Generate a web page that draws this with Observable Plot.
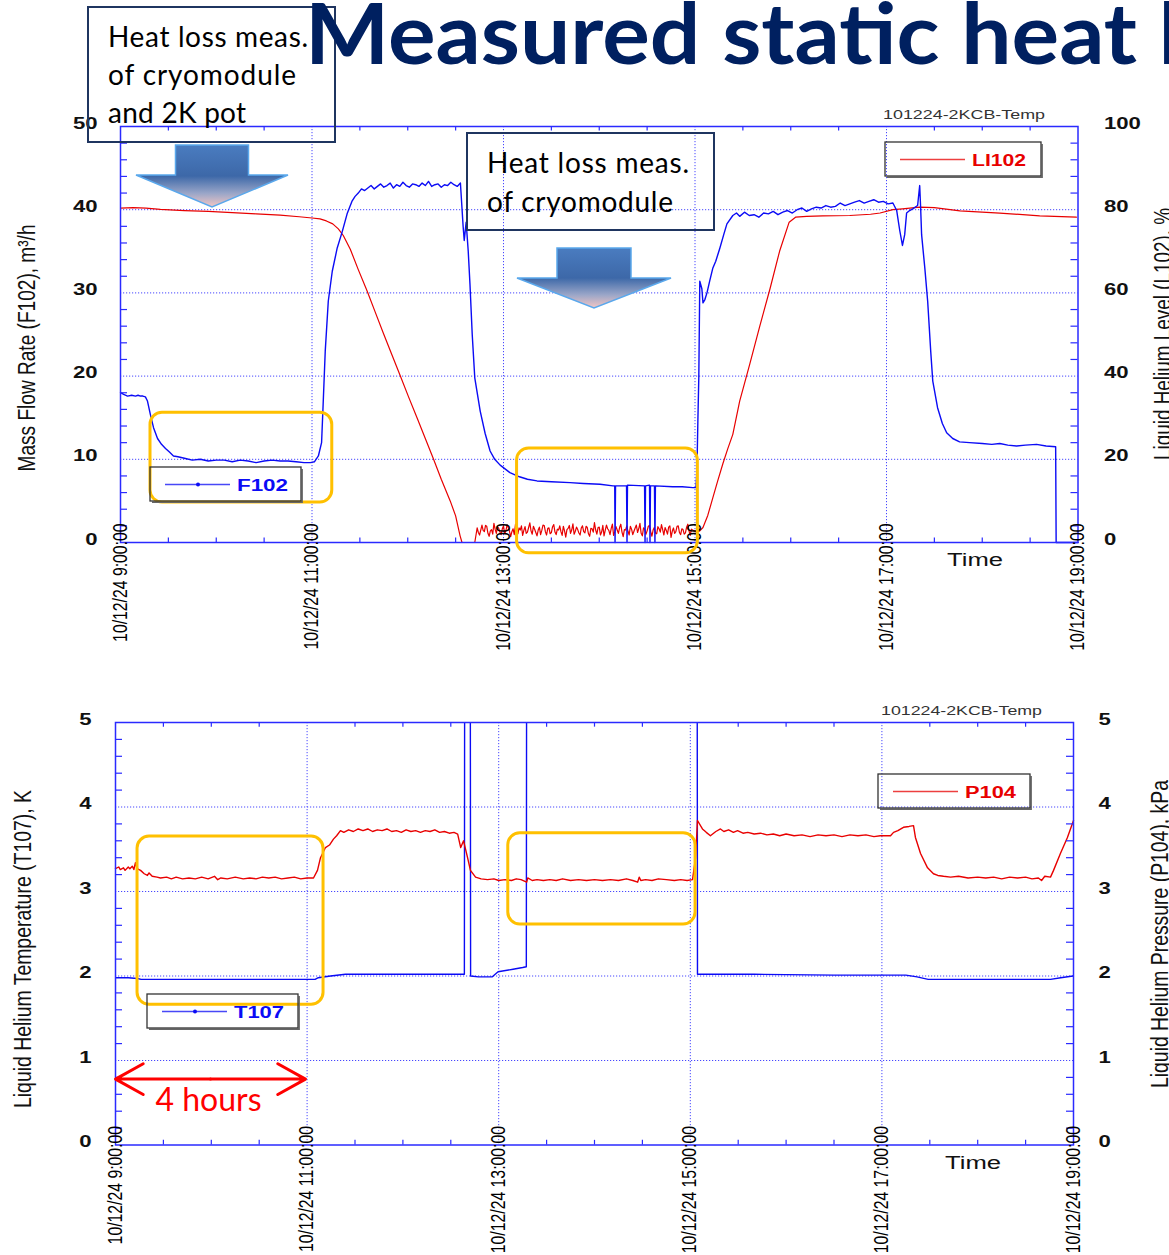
<!DOCTYPE html>
<html><head><meta charset="utf-8">
<script src="https://cdn.jsdelivr.net/npm/d3@7"></script>
<script src="https://cdn.jsdelivr.net/npm/@observablehq/plot@0.6"></script>
<style>
html,body{margin:0;padding:0;background:#fff;overflow:hidden;}
#page{position:relative;width:1169px;height:1255px;overflow:hidden;font-family:'Liberation Sans',Arial,sans-serif;}
#top,#bottom{position:absolute;left:0;}
#top{top:0;}
#bottom{top:660px;}
#overlay{position:absolute;left:0;top:0;pointer-events:none;}
</style></head>
<body><div id="page"><div id="top"></div><div id="bottom"></div><svg id="overlay" width="1169" height="1255"></svg></div>
<script>
// ---------- DATA (time in minutes after 10/12/24 9:00:00) ----------
const timeTicks = [0, 120, 240, 360, 480, 600];
const timeTickLabels = ["10/12/24 9:00:00","10/12/24 11:00:00","10/12/24 13:00:00","10/12/24 15:00:00","10/12/24 17:00:00","10/12/24 19:00:00"];
const minorTimeTicks = [30,60,90,150,180,210,270,300,330,390,420,450,510,540,570];
const gridTimes = [120, 240, 360, 480];

const flowTicks = [0, 10, 20, 30, 40, 50];
const levelTickLabels = [0, 20, 40, 60, 80, 100];
const flowGrid = [10, 20, 30, 40];
const flowMinor = [2,4,6,8,12,14,16,18,22,24,26,28,32,34,36,38,42,44,46,48];

const tempTicks = [0, 1, 2, 3, 4, 5];
const pressureTickLabels = [0, 1, 2, 3, 4, 5];
const tempGrid = [1, 2, 3, 4];
const tempMinor = [0.2,0.4,0.6,0.8,1.2,1.4,1.6,1.8,2.2,2.4,2.6,2.8,3.2,3.4,3.6,3.8,4.2,4.4,4.6,4.8];

// F102 mass flow rate, m3/h
const F102 = [[0,18.0],[2,17.8],[4.4,17.6],[7,17.7],[9.4,17.6],[11,17.7],[12.5,17.6],[14,17.6],[15.6,17.5],[16.9,17.0],[18.8,15.3],[20.7,13.8],[23.2,12.5],[25.7,11.8],[28.2,11.3],[30.5,10.9],[33.2,10.4],[36,10.3],[40.7,10.1],[45,9.9],[50,10.0],[55,9.8],[60,9.9],[65,9.9],[70,9.7],[75,9.9],[80,9.8],[85,9.6],[90,9.8],[95,9.9],[100,9.8],[105,9.8],[110,9.7],[115,9.6],[119,9.6],[121.5,9.7],[124,10.4],[126,12.0],[127,16.7],[128.3,23],[130.2,29],[132.7,32.6],[135.8,35.4],[139,37.4],[142,39.5],[145,41.0],[147,41.6],
[149,42.0],[151,42.5],[153,42.3],[155,42.6],[157,42.9],[159,42.5],[161,42.8],[163,43.1],[165,42.7],[167,42.9],[169,43.2],[171,42.6],[173,43.0],[175,42.8],[177,43.3],[179,42.9],[181,42.7],[183,43.1],[185,43.0],[187,42.8],[189,43.2],[191,42.9],[193,43.4],[195,42.8],[197,43.0],[199,43.1],[201,42.7],[203,43.0],[205,42.9],[207,43.3],[209,43.0],[211,42.8],[213,43.2],
[214.7,38],[215.4,36.3],[216.6,38.5],[217.9,35],[219,31],[220.4,25],[222,19.8],[225.4,15.8],[228.5,13.1],[231.6,11],[234.5,10.0],[237.9,9.3],[244,8.4],[250,7.9],[255,7.6],[261,7.4],[270,7.3],[281.7,7.2],[290,7.1],[300.5,7.0],[308.6,6.8],[309.7,6.8],[309.9,0],[310.2,6.8],[317.1,6.8],[317.4,0],[317.7,6.9],[328.4,6.8],[328.7,0],[329,6.8],[331.5,6.9],[331.8,0],[332.1,6.8],[334.6,6.8],[334.9,0],[335.2,6.8],[346,6.7],[352,6.7],[358.7,6.6],[360.6,6.6],
[361.2,8.6],[361.8,14.6],[362.4,20],[363,31.4],[364.3,30.5],[365,28.8],[366.2,29.2],[367.5,30],[369.3,31.5],[371.2,33],[373,33.8],[375.6,35.4],[378,37],[380,38.3],[383.7,39.3],
[386,39.6],[388,39.2],[391,39.7],[394,39.3],[397,39.4],[400,39.1],[403,39.6],[406,39.5],[409,39.8],[412,39.4],[415,39.7],[418,39.9],[421,39.6],[424,40.0],[427,40.2],[430,39.8],[433,40.1],[436,40.3],[439,40.2],[442,40.5],[445,40.3],[448,40.4],[451,40.8],[454,40.5],[457,40.7],[460,40.9],[463,41.1],[466,40.8],[469,41.0],[472,41.2],[475,40.9],[478,41.0],[481,40.7],[484,40.8],
[486.4,39.9],[488.3,37.5],[490,35.7],[491.4,37],[492.6,39.6],[494.5,39.9],[496.4,40.1],[499.5,40.5],[500.8,42.9],[501.4,40.2],[502,37],[504,33],[505.8,29],[507.7,23],[509,19.4],[512,16.2],[515,14.3],[517.7,13.2],[521.5,12.5],[525.8,12.1],[532,12.0],[540,11.9],[546,11.8],[551,11.9],[556,11.7],[561.5,11.6],[567,11.7],[574,11.8],[580,11.6],[586,11.5],[586.3,0],[600,0]];

// LI102 liquid helium level, %
const LI102 = [[0,80.4],[8,80.5],[16,80.4],[25,80.1],[40,79.8],[55,79.6],[70,79.3],[85,79.0],[100,78.7],[112,78.3],[120,78.0],[125,77.8],[129,77.3],[133,76.6],[136.5,75.4],[139.6,73.8],[144,70.5],[149,65.6],[154.6,60.4],[159.5,55.5],[164.6,50.4],[170,45.2],[175.3,40.1],[180.5,35],[186,29.8],[191,25],[196,20.2],[201,15.2],[206.6,10],[210,6.4],[212.8,1.6],[214,0],[222,0],
[223.5,3.5],[224.25,2.4],[225,1.8],[225.75,3.0],[226.5,4.2],[227.25,2.9],[228,2.6],[228.75,4.1],[229.5,3.9],[230.25,2.2],[231,1.5],[231.75,2.8],[232.5,3.1],[233.25,2.0],[234,4.6],[234.75,3.2],[235.5,2.2],[236.25,3.8],[237,3.4],[237.75,2.5],[238.5,1.9],[239.25,3.3],[240,4.0],[240.75,2.1],[241.5,2.8],[242.25,4.3],[243,3.6],[243.75,2.7],[244.5,1.4],[245.25,2.6],[246,3.3],[246.75,1.9],[247.5,4.4],[248.25,3.1],[249,2.1],[249.75,3.5],[250.5,3.0],[251.25,4.0],[252,1.7],[252.75,2.9],[253.5,3.8],[254.25,2.2],[255,2.5],[255.75,3.6],[256.5,4.7],[257.25,2.8],[258,2.0],[258.75,3.9],[259.5,3.2],[260.25,2.4],[261,1.6],[261.75,3.0],[262.5,3.7],[263.25,1.9],[264,2.9],[264.75,4.2],[265.5,4.1],[266.25,2.6],[267,1.8],[267.75,3.4],[268.5,3.5],[269.25,2.1],[270,2.4],[270.75,3.8],[271.5,4.3],[272.25,2.5],[273,1.9],[273.75,3.2],[274.5,3.0],[275.25,4.0],[276,2.6],[276.75,1.7],[277.5,3.9],[278.25,2.8],[279,1.3],[279.75,3.1],[280.5,3.4],[281.25,4.1],[282,2.2],[282.75,3.0],[283.5,4.5],[284.25,2.0],[285,2.7],[285.75,3.7],[286.5,3.1],[287.25,2.3],[288,1.8],[288.75,3.5],[289.5,4.0],[290.25,2.6],[291,2.3],[291.75,3.9],[292.5,3.6],[293.25,2.1],[294,1.5],[294.75,3.4],[295.5,3.3],[296.25,2.5],[297,4.8],[297.75,3.0],[298.5,2.0],[299.25,3.6],[300,3.7],[300.75,1.8],[301.5,2.5],[302.25,4.1],[303,1.6],[303.75,2.9],[304.5,4.2],[305.25,3.3],[306,2.9],[306.75,1.9],[307.5,3.4],[308.25,4.4],[309,1.7],[309.75,2.6],[310.5,3.8],[311.25,3.0],[312,2.2],[312.75,3.6],[313.5,4.4],[314.25,2.5],[315,1.4],[315.75,3.1],[316.5,3.0],[317.25,4.0],[318,2.7],[318.75,1.8],[319.5,3.9],[320.25,3.2],[321,1.9],[321.75,2.7],[322.5,3.5],[323.25,4.2],[324,2.4],[324.75,3.3],[325.5,4.6],[326.25,2.2],[327,1.6],[327.75,3.5],[328.5,3.2],[329.25,2.0],[330,2.8],[330.75,3.9],[331.5,4.1],[332.25,2.6],[333,1.5],[333.75,3.0],[334.5,3.6],[335.25,2.3],[336,2.1],[336.75,3.8],[337.5,3.3],[338.25,2.5],[339,4.3],[339.75,3.1],[340.5,1.8],[341.25,3.6],[342,2.9],[342.75,2.0],[343.5,3.7],[344.25,4.0],[345,1.2],[345.75,2.7],[346.5,3.5],[347.25,2.2],[348,2.6],[348.75,3.9],[349.5,4.0],[350.25,2.4],[351,1.9],[351.75,3.3],[352.5,3.1],[353.25,2.0],[354,2.3],[354.75,3.7],[355.5,4.4],[356.25,2.8],[357,1.7],[357.75,3.2],[358.5,3.0],
[361,2.5],[363,2.8],[365,3.6],[368,6.5],[371.2,10.8],[374,14.5],[377.5,19],[380.5,22.5],[383.7,26],[388,34],[394.4,43],[400.6,52],[407,61],[413,70],[419,77],[423,78.2],[430,78.4],[440,78.5],[457,78.6],[470,78.9],[476,79.2],[484,80.0],[490,80.2],[500.8,80.6],[510,80.5],[526,79.7],[551,79.2],[576,78.5],[599,78.2]];

// T107 liquid helium temperature, K (6 = off scale)
const T107 = [[0,1.98],[8,1.98],[13.8,1.97],[16,1.96],[40,1.96],[70,1.96],[100,1.96],[125,1.96],[127,1.98],[134.7,2.00],[144,2.02],[180,2.02],[218.5,2.02],[218.7,6],[222.2,6],[222.4,2.0],[227.3,1.99],[236,1.99],[239.6,2.05],[249,2.08],[255,2.10],[257.3,2.11],[257.5,6],[364.3,6],[364.5,2.02],[400,2.02],[450,2.01],[495,2.01],[502,1.99],[509,1.96],[550,1.96],[585.6,1.96],[592,1.98],[600,2.00]];

// P104 liquid helium pressure, kPa
const P104 = [[0,3.27],[2,3.29],[3,3.26],[5,3.28],[6,3.25],[8,3.29],[9,3.27],[10.5,3.30],[11.5,3.26],[12.5,3.34],[13.5,3.27],[15.7,3.25],[18,3.21],[20,3.19],[21,3.22],[23,3.18],[26,3.17],[28.2,3.16],[32,3.17],[35,3.15],[38,3.17],[42,3.15],[46,3.16],[50,3.15],[54,3.17],[58,3.15],[62,3.18],[64,3.14],[66,3.16],[70,3.15],[75,3.17],[80,3.15],[84,3.16],[88,3.15],[92,3.17],[96,3.16],[100,3.17],[104,3.15],[108,3.16],[112,3.17],[116,3.15],[120,3.16],[124,3.16],[126.5,3.25],[128.4,3.40],[131.5,3.52],[134,3.55],[136.5,3.62],[138.5,3.66],[140.9,3.72],[143,3.70],[146,3.73],[149,3.71],[152,3.74],[155,3.72],[158,3.74],[161,3.71],[164,3.73],[167,3.72],[170,3.74],[173,3.71],[176,3.72],[179,3.70],[182,3.73],[185,3.71],[188,3.72],[191,3.70],[194,3.72],[197,3.71],[200,3.73],[203,3.70],[206,3.71],[209,3.69],[212,3.70],[214.3,3.68],[216.2,3.52],[218,3.60],[220.5,3.40],[222.3,3.25],[225.5,3.17],[229,3.15],[233,3.14],[237,3.15],[240,3.13],[244,3.14],[248,3.13],[251,3.15],[254,3.14],[257.5,3.11],[258.2,3.16],[261,3.13],[264,3.14],[268,3.13],[272,3.14],[276,3.13],[280,3.15],[285,3.13],[290,3.14],[295,3.13],[300,3.14],[305,3.13],[310,3.14],[315,3.13],[320,3.15],[324,3.13],[327,3.11],[328,3.17],[329,3.13],[332,3.14],[336,3.13],[340,3.15],[345,3.14],[350,3.13],[354,3.14],[358,3.13],[361.4,3.14],[363.3,3.40],[364.5,3.84],[367.6,3.74],[370,3.70],[372.6,3.66],[376,3.71],[378.9,3.74],[381,3.71],[384,3.73],[387,3.70],[389.6,3.72],[393,3.69],[396,3.70],[400,3.68],[404,3.69],[408,3.67],[412,3.68],[416,3.66],[420,3.68],[425,3.66],[430,3.67],[435,3.65],[440,3.67],[445,3.66],[450,3.67],[455,3.65],[460,3.67],[465,3.66],[470,3.67],[475,3.65],[479,3.66],[485.4,3.66],[487.3,3.70],[490,3.72],[493.5,3.76],[497,3.77],[499.8,3.78],[501,3.64],[504.2,3.45],[508.6,3.28],[512.3,3.21],[515,3.19],[518.6,3.18],[523,3.17],[528,3.18],[534,3.16],[540,3.17],[545,3.16],[550,3.17],[555,3.15],[560,3.17],[565,3.16],[570,3.17],[574,3.15],[578,3.16],[580,3.13],[582,3.18],[585.6,3.17],[587.5,3.25],[591.8,3.45],[596.2,3.64],[600,3.84]];

// highlighted measurement windows (time range, value range)
const focusTop = [{t1: 18.8, t2: 132.7, v1: 4.8, v2: 15.6}, {t1: 248.5, t2: 361.8, v1: -1.3, v2: 11.3}];
const focusBottom = [{t1: 13.8, t2: 130.3, v1: 1.66, v2: 3.65}, {t1: 246, t2: 363.3, v1: 2.61, v2: 3.69}];
// "4 hours" span annotation
const hoursSpan = {start: 0, end: 119, value: 0.78, label: "4 hours", labelValue: 0.4};

// ---------- STYLE ----------
const BLUE = "#0b0bf5", RED = "#e80000", AXIS = "#2a2aff", GRID = "#4848ff", YELLOW = "#FFC000";
const FONT = "'Liberation Sans', Arial, sans-serif";

function frameMarks(minorY, yMax, tickLen, ticks, labelsRight, dxL, dxR) {
  return [
    Plot.frame({stroke: AXIS, strokeWidth: 1.5}),
    Plot.ruleY(minorY, {y: d => d, x1: 0, x2: 4.4, stroke: AXIS, strokeWidth: 1.2}),
    Plot.ruleY(minorY, {y: d => d, x1: 595.6, x2: 600, stroke: AXIS, strokeWidth: 1.2}),
    Plot.ruleX(minorTimeTicks, {x: d => d, y1: 0, y2: tickLen, stroke: AXIS, strokeWidth: 1.2}),
    Plot.ruleX(minorTimeTicks, {x: d => d, y1: yMax - tickLen, y2: yMax, stroke: AXIS, strokeWidth: 1.2}),
    Plot.text(ticks, {frameAnchor: "left", y: d => d, text: d => `${d}`, textAnchor: "end", dx: dxL, dy: -3, fontSize: 16, fontWeight: "bold", fill: "#111"}),
    Plot.text(ticks, {frameAnchor: "right", y: d => d, text: (d, i) => `${labelsRight[i]}`, textAnchor: "start", dx: dxR, dy: -3, fontSize: 16, fontWeight: "bold", fill: "#111"}),
    Plot.text(timeTicks, {x: d => d, frameAnchor: "bottom", text: (d, i) => timeTickLabels[i], rotate: -90, textAnchor: "end", dx: 6, dy: -19, fontSize: 21, fill: "#000"})
  ];
}

const topPlot = Plot.plot({
  width: 1169, height: 660,
  marginLeft: 120, marginRight: 91.5, marginTop: 126, marginBottom: 118,
  x: {domain: [0, 600], axis: null},
  y: {domain: [0, 50], axis: null},
  style: {background: "transparent", overflow: "visible", fontFamily: FONT},
  marks: [
    Plot.ruleY(flowGrid, {y: d => d, stroke: GRID, strokeWidth: 1, strokeDasharray: "1.2,1.8"}),
    Plot.ruleX(gridTimes, {x: d => d, stroke: GRID, strokeWidth: 1, strokeDasharray: "1.2,1.8"}),
    Plot.line(LI102, {x: d => d[0], y: d => d[1] / 2, stroke: RED, strokeWidth: 1.2}),
    Plot.line(F102, {x: d => d[0], y: d => d[1], stroke: BLUE, strokeWidth: 1.4}),
    ...frameMarks(flowMinor, 50, 0.55, flowTicks, levelTickLabels, -23, 26),
    Plot.rect(focusTop, {x1: "t1", x2: "t2", y1: "v1", y2: "v2", fill: "none", stroke: YELLOW, strokeWidth: 3, rx: 12})
  ]
});

const bottomPlot = Plot.plot({
  width: 1169, height: 595,
  marginLeft: 115, marginRight: 96, marginTop: 62, marginBottom: 110.5,
  x: {domain: [0, 600], axis: null},
  y: {domain: [0, 5], axis: null},
  style: {background: "transparent", overflow: "visible", fontFamily: FONT},
  marks: [
    Plot.ruleY(tempGrid, {y: d => d, stroke: GRID, strokeWidth: 1, strokeDasharray: "1.2,1.8"}),
    Plot.ruleX(gridTimes, {x: d => d, stroke: GRID, strokeWidth: 1, strokeDasharray: "1.2,1.8"}),
    Plot.line(T107, {x: d => d[0], y: d => d[1], stroke: BLUE, strokeWidth: 1.4, clip: true}),
    Plot.line(P104, {x: d => d[0], y: d => d[1], stroke: RED, strokeWidth: 1.4}),
    ...frameMarks(tempMinor, 5, 0.055, tempTicks, pressureTickLabels, -24, 25),
    Plot.rect(focusBottom, {x1: "t1", x2: "t2", y1: "v1", y2: "v2", fill: "none", stroke: YELLOW, strokeWidth: 3, rx: 12}),
    Plot.arrow([{a: (hoursSpan.start + hoursSpan.end) / 2, b: hoursSpan.start}, {a: (hoursSpan.start + hoursSpan.end) / 2, b: hoursSpan.end}],
      {x1: "a", x2: "b", y1: () => hoursSpan.value, y2: () => hoursSpan.value, stroke: "#ff0000", strokeWidth: 3, headLength: 20, headAngle: 58}),
    Plot.text([hoursSpan], {x: d => (d.start + d.end) / 2, y: "labelValue", text: "label", fill: "#ff0000", fontSize: 32, fontFamily: "Lato, 'Open Sans', sans-serif", lineAnchor: "bottom", dx: -2})
  ]
});

document.getElementById("top").appendChild(topPlot);
document.getElementById("bottom").appendChild(bottomPlot);

// condensed / stretched glyphs like the source graphic
for (const svg of [topPlot, bottomPlot]) {
  const dates = [...svg.querySelectorAll("text")].filter(t => /^10\/12\/24/.test(t.textContent));
  const ref = dates.find(t => /11:00/.test(t.textContent));
  const k = ref ? 126 / ref.getComputedTextLength() : 0.75;
  for (const t of dates) {
    t.setAttribute("textLength", (t.getComputedTextLength() * k).toFixed(1));
    t.setAttribute("lengthAdjust", "spacingAndGlyphs");
  }
  for (const t of svg.querySelectorAll("text")) {
    if (/^\d+$/.test(t.textContent)) {
      t.setAttribute("textLength", (t.getComputedTextLength() * 1.38).toFixed(1));
      t.setAttribute("lengthAdjust", "spacingAndGlyphs");
    }
  }
}

// ---------- OVERLAY: slide title, notes, legends, axis titles ----------
const LATO = "Lato, 'Open Sans', sans-serif";
function legend(x, y, w, color, label, dot, tl) {
  return `<path d="M${x+w+1.2},${y+2}V${y+35.2}H${x+2}" fill="none" stroke="#666" stroke-width="1.4"/>
  <rect x="${x}" y="${y}" width="${w}" height="34" fill="none" stroke="#333" stroke-width="1.3"/>
  <line x1="${x+15}" x2="${x+80}" y1="${y+17.5}" y2="${y+17.5}" stroke="${color}" stroke-width="1.3" opacity="0.75"/>
  ${dot ? `<circle cx="${x+48}" cy="${y+17.5}" r="2" fill="${color}"/>` : ""}
  <text x="${x+87}" y="${y+24}" font-family="${FONT}" font-weight="bold" font-size="16" fill="${color}" textLength="${tl}" lengthAdjust="spacingAndGlyphs">${label}</text>`;
}
function vtitle(x, y, len, s) {
  return `<text transform="translate(${x},${y}) rotate(-90) scale(1,1.3)" text-anchor="middle" font-family="${FONT}" font-size="18.5" fill="#111" textLength="${len}" lengthAdjust="spacingAndGlyphs">${s}</text>`;
}
function arrow(cx, top, shaftW, shaftH, headW, headH) {
  const p = [[cx-shaftW/2,top],[cx+shaftW/2,top],[cx+shaftW/2,top+shaftH],[cx+headW/2,top+shaftH],[cx,top+shaftH+headH],[cx-headW/2,top+shaftH],[cx-shaftW/2,top+shaftH]];
  return `<polygon points="${p.map(q => q.join(",")).join(" ")}" fill="url(#ag)" stroke="#5aa8ec" stroke-width="1.5"/>`;
}
const overlay = document.getElementById("overlay");
overlay.innerHTML = `
<defs><linearGradient id="ag" x1="0" y1="0" x2="0" y2="1">
<stop offset="0" stop-color="#4a7cc0"/><stop offset="0.5" stop-color="#3d68a8"/><stop offset="0.78" stop-color="#9aa6c8"/><stop offset="1" stop-color="#f4c6c4"/></linearGradient></defs>
<rect x="88" y="7" width="247" height="135" fill="none" stroke="#1f3560" stroke-width="2"/>
<g font-family="${LATO}" font-size="28" fill="#000">
<text x="108" y="47" textLength="200" lengthAdjust="spacing">Heat loss meas.</text>
<text x="108" y="85" textLength="188" lengthAdjust="spacing">of cryomodule</text>
<text x="108" y="123" textLength="138" lengthAdjust="spacing">and 2K pot</text>
</g>
<text id="title" x="305" y="64" font-family="${LATO}" font-weight="700" font-size="85" fill="#002060">Measured static heat load</text>
<rect x="467" y="133" width="247" height="97" fill="none" stroke="#1f3560" stroke-width="2"/>
<g font-family="${LATO}" font-size="28" fill="#000">
<text x="487" y="173" textLength="202" lengthAdjust="spacing">Heat loss meas.</text>
<text x="487" y="212" textLength="186" lengthAdjust="spacing">of cryomodule</text>
</g>
${arrow(212, 145, 73, 30, 152, 32)}
${arrow(594, 248, 74, 30, 154, 30)}
${legend(150, 467, 151, BLUE, "F102", true, 51)}
${legend(885, 142, 156, RED, "LI102", false, 54)}
${legend(147, 994, 151, BLUE, "T107", true, 50)}
${legend(878, 774, 152, RED, "P104", false, 51)}
<g font-family="${FONT}" fill="#333" font-size="12.5">
<text x="883" y="119" textLength="162" lengthAdjust="spacingAndGlyphs">101224-2KCB-Temp</text>
<text x="881" y="715" textLength="161" lengthAdjust="spacingAndGlyphs">101224-2KCB-Temp</text>
</g>
<g font-family="${FONT}" fill="#111" font-size="18">
<text x="947" y="566" textLength="56" lengthAdjust="spacingAndGlyphs">Time</text>
<text x="945" y="1169" textLength="56" lengthAdjust="spacingAndGlyphs">Time</text>
</g>
${vtitle(35, 348, 247, "Mass Flow Rate (F102), m³/h")}
${vtitle(1171, 334, 252, "Liquid Helium Level (L102), %")}
${vtitle(31, 949, 318, "Liquid Helium Temperature (T107), K")}
${vtitle(1168, 934, 308, "Liquid Helium Pressure (P104), kPa")}
`;
// fit the slide title: "Measured static heat" spans ~832 px in the source
const title = document.getElementById("title");
const probe = document.createElementNS("http://www.w3.org/2000/svg", "text");
probe.setAttribute("font-family", LATO); probe.setAttribute("font-weight", "700"); probe.setAttribute("font-size", "85");
probe.textContent = "Measured static heat";
overlay.appendChild(probe);
const ratio = 832 / probe.getComputedTextLength();
overlay.removeChild(probe);
title.setAttribute("textLength", (title.getComputedTextLength() * ratio).toFixed(1));
title.setAttribute("lengthAdjust", "spacingAndGlyphs");
</script>
</body></html>
